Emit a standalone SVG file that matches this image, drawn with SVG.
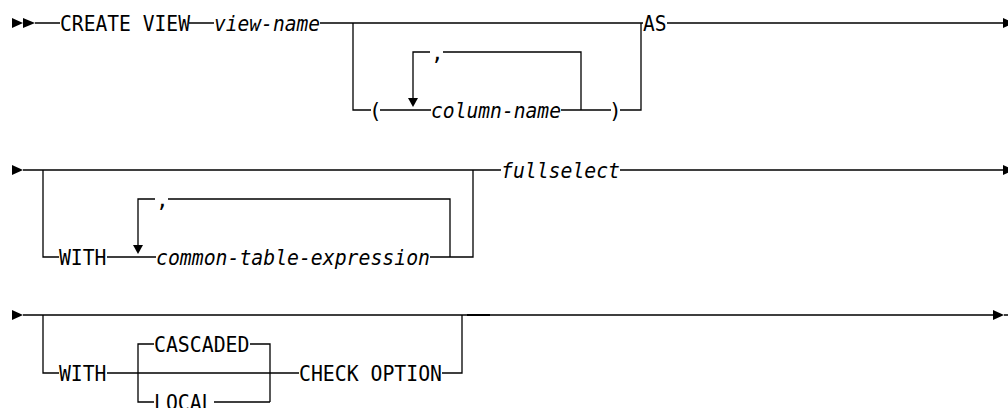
<svg xmlns="http://www.w3.org/2000/svg" width="1008" height="408" viewBox="0 0 1008 408">
<style>
  .t { font-family: "DejaVu Sans Mono", "Liberation Mono", monospace; font-size: 21px; fill: #000; }
  .i { font-style: italic; }
  .ln { fill: none; stroke: #000; stroke-width: 1.3; }
  .ah { fill: #000; stroke: none; }
</style>
<rect width="1008" height="408" fill="#fff"/>
<g id="connectors">
  <!-- row 1 -->
  <path class="ln" d="M35,23 H60 M189,23 H214 M320,23 H643 M667,23 H1004"/>
  <path class="ln" d="M353,23 V110 H371 M380,110 H431 M561,110 H611 M620,110 H641 V23"/>
  <path class="ln" d="M581,110 V52 H443 M430,52 H413 V98"/>
  <!-- row 2 -->
  <path class="ln" d="M23,170 H501 M620,170 H1004"/>
  <path class="ln" d="M43,170 V257 H59 M107,257 H156 M430,257 H473 V170"/>
  <path class="ln" d="M450,257 V199 H168 M155,199 H138 V245"/>
  <!-- row 3 -->
  <path class="ln" d="M23,315 H994 M1004,315 H1008"/>
  <path class="ln" d="M467,315 H490" style="stroke-width:2"/>
  <path class="ln" d="M43,315 V373 H59 M107,373 H299 M442,373 H462 V315"/>
  <path class="ln" d="M138,373 V344 H154 M250,344 H270 V402 M138,373 V402 H154 M214,402 H270"/>
  <!-- arrowheads -->
  <polygon class="ah" points="12,18 23,23 12,28"/>
  <polygon class="ah" points="23,18 35,23 23,28"/>
  <polygon class="ah" points="12,165 23,170 12,175"/>
  <polygon class="ah" points="12,310 23,315 12,320"/>
  <polygon class="ah" points="1003,18 1014,23 1003,28"/>
  <polygon class="ah" points="1003,165 1014,170 1003,175"/>
  <polygon class="ah" points="993,310 1004,315 993,320"/>
  <polygon class="ah" points="408,98 418,98 413,107"/>
  <polygon class="ah" points="133,245 143,245 138,254"/>
</g>
<g id="create-view"><text class="t" x="60" y="30.5" textLength="130" lengthAdjust="spacingAndGlyphs">CREATE VIEW</text></g>
<g id="view-name"><text class="t i" x="214" y="30.5" textLength="106" lengthAdjust="spacingAndGlyphs">view-name</text></g>
<g id="as"><text class="t" x="643" y="30.5" textLength="23.5" lengthAdjust="spacingAndGlyphs">AS</text></g>
<g id="lparen"><text class="t" x="369" y="117.5">(</text></g>
<g id="comma1"><text class="t" x="431" y="59.5">,</text></g>
<g id="column-name"><text class="t i" x="431" y="117.5" textLength="130" lengthAdjust="spacingAndGlyphs">column-name</text></g>
<g id="rparen"><text class="t" x="609" y="117.5">)</text></g>
<g id="fullselect"><text class="t i" x="501" y="177.5" textLength="119" lengthAdjust="spacingAndGlyphs">fullselect</text></g>
<g id="with1"><text class="t" x="59" y="264.5" textLength="47.5" lengthAdjust="spacingAndGlyphs">WITH</text></g>
<g id="comma2"><text class="t" x="156" y="206.5">,</text></g>
<g id="cte"><text class="t i" x="156" y="264.5" textLength="274" lengthAdjust="spacingAndGlyphs">common-table-expression</text></g>
<g id="with2"><text class="t" x="59" y="380.5" textLength="47.5" lengthAdjust="spacingAndGlyphs">WITH</text></g>
<g id="cascaded"><text class="t" x="154" y="351.5" textLength="95.5" lengthAdjust="spacingAndGlyphs">CASCADED</text></g>
<g id="local"><text class="t" x="154" y="409.5" textLength="59.5" lengthAdjust="spacingAndGlyphs">LOCAL</text></g>
<g id="check-option"><text class="t" x="299" y="380.5" textLength="143" lengthAdjust="spacingAndGlyphs">CHECK OPTION</text></g>
</svg>
